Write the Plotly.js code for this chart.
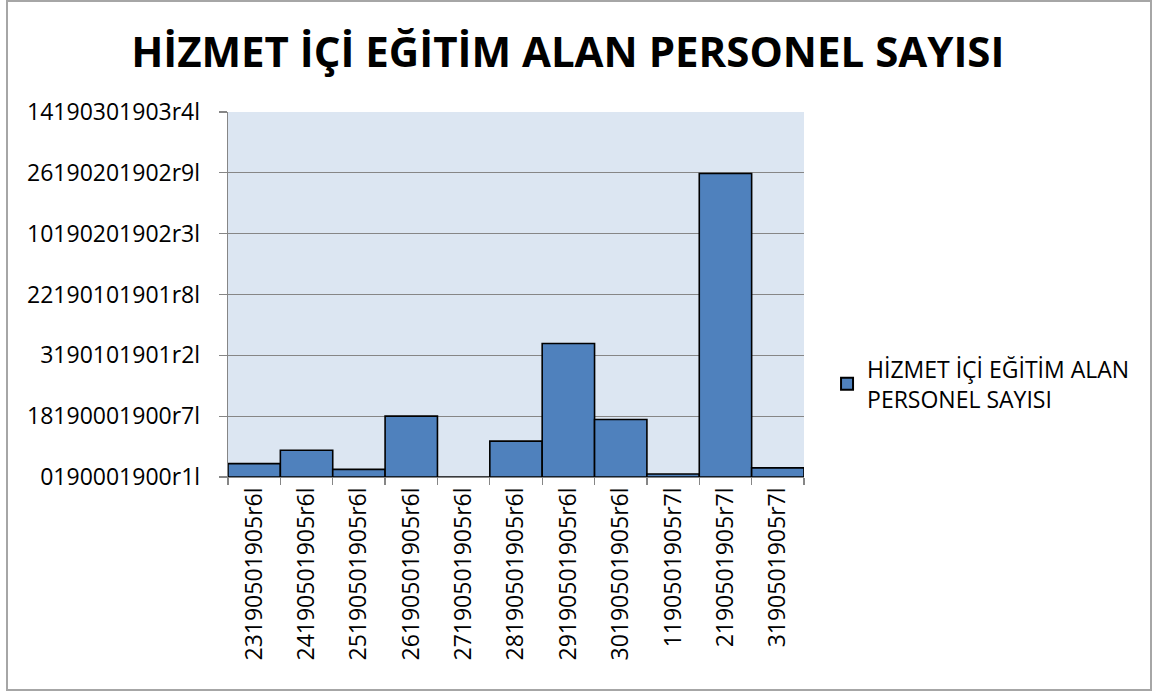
<!DOCTYPE html>
<html>
<head>
<meta charset="utf-8">
<script src="https://cdn.plot.ly/plotly-3.0.1.min.js"></script>
<style>
  html, body { margin: 0; padding: 0; background: #fff; }
  #wrap { position: relative; width: 1154px; height: 691px; }
  #chart { position: absolute; left: 0; top: 0; width: 1154px; height: 691px; }
  #frame { position: absolute; left: 6px; top: 0px; width: 1142px; height: 687px;
           border: 2px solid #a6a6a6; pointer-events: none; }
</style>
</head>
<body>
<div id="wrap">
  <div id="chart"></div>
  <div id="frame"></div>
</div>
<script>
const categories = [
  "2319050190 5r6l", "2419050190 5r6l", "2519050190 5r6l", "2619050190 5r6l",
  "2719050190 5r6l", "2819050190 5r6l", "2919050190 5r6l", "3019050190 5r6l",
  "119050190 5r7l", "219050190 5r7l", "319050190 5r7l"
].map(s => s.replace(" ", ""));
const values = [4.4, 8.8, 2.5, 20, 0, 11.8, 43.9, 18.9, 1, 99.8, 3];
const yTickVals = [0, 20, 40, 60, 80, 100, 120];
const yTickText = [
  "0190001900r1l", "18190001900r7l", "3190101901r2l", "22190101901r8l",
  "10190201902r3l", "26190201902r9l", "14190301903r4l"
];
const seriesName = "HİZMET İÇİ EĞİTİM ALAN<br>PERSONEL SAYISI";
const titleText = "HİZMET İÇİ EĞİTİM ALAN PERSONEL SAYISI";

const font = "Open Sans, Noto Sans, sans-serif";

const trace = {
  type: "bar",
  x: categories,
  y: values,
  name: seriesName,
  showlegend: true,
  marker: { color: "#4F81BD", line: { color: "#000000", width: 1.6 } },
  hoverinfo: "x+y"
};

const layout = {
  width: 1154,
  height: 691,
  paper_bgcolor: "rgba(0,0,0,0)",
  plot_bgcolor: "#DCE6F2",
  margin: { l: 228, r: 350, t: 112, b: 214, pad: 0 },
  bargap: 0,
  title: {
    text: "<b>" + titleText + "</b>",
    font: { family: font, size: 42, color: "#000" },
    x: 0.492, xanchor: "center",
    y: 0.925, yanchor: "middle",
    xref: "container", yref: "container"
  },
  showlegend: true,
  legend: {
    x: 1.04, xanchor: "left",
    y: 0.255, yanchor: "middle",
    font: { family: font, size: 23, color: "#000" },
    bgcolor: "rgba(0,0,0,0)",
    itemsizing: "constant",
    tracegroupgap: 0
  },
  xaxis: {
    type: "category",
    tickson: "boundaries",
    ticks: "outside",
    ticklen: 7,
    tickcolor: "#868686",
    tickwidth: 1.3,
    showline: true,
    linecolor: "#868686",
    linewidth: 1.3,
    showgrid: false,
    tickangle: -90,
    tickfont: { family: font, size: 23, color: "#000" },
    fixedrange: true
  },
  yaxis: {
    range: [0, 120],
    tickmode: "array",
    tickvals: yTickVals,
    ticktext: yTickText,
    ticks: "outside",
    ticklen: 8,
    tickcolor: "#868686",
    tickwidth: 1.3,
    showline: true,
    linecolor: "#868686",
    linewidth: 1.3,
    showgrid: true,
    gridcolor: "#868686",
    gridwidth: 1.3,
    zeroline: false,
    ticklabelstandoff: 14,
    tickfont: { family: font, size: 23, color: "#000" },
    fixedrange: true
  }
};

Plotly.newPlot("chart", [trace], layout, { displayModeBar: false, staticPlot: true });
</script>
</body>
</html>
